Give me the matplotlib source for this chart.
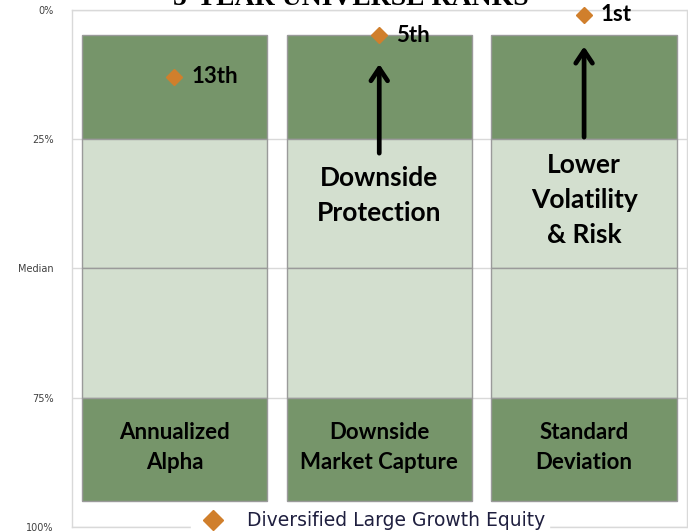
import matplotlib.pyplot as plt
from matplotlib.lines import Line2D

categories = ["Annualized\nAlpha", "Downside\nMarket Capture", "Standard\nDeviation"]
band_edges = [5, 25, 50, 75, 95]          # percentile rank band boundaries
band_colors = ["#76956A", "#D3DFCF", "#D3DFCF", "#76956A"]
ranks = [13, 5, 1]
rank_labels = ["13th", "5th", "1st"]
series_name = "Diversified Large Growth Equity"
ytick_vals = [0, 25, 50, 75, 100]
ytick_labels = ["0%", "25%", "Median", "75%", "100%"]

fig = plt.figure(figsize=(6.88, 5.32), dpi=100)
ax = fig.add_axes([72/688, 5/532, (686.5-72)/688, (527-9.5)/532])

x = list(range(len(categories)))
for i in range(len(band_edges) - 1):
    lo, hi = band_edges[i], band_edges[i+1]
    ax.bar(x, [hi - lo]*len(x), bottom=[lo]*len(x), width=0.905,
           color=band_colors[i], edgecolor="#9A9A9A", linewidth=1.0, zorder=2)

ax.set_ylim(100, 0)
ax.set_xlim(-0.5, len(categories) - 0.5)
ax.set_yticks(ytick_vals)
ax.set_yticklabels(ytick_labels, fontsize=7, color="#404040", family="DejaVu Sans")
ax.tick_params(axis="y", length=0, pad=13)
ax.set_xticks([])
ax.yaxis.grid(True, color="#D9D9D9", linewidth=1.0, zorder=0)
ax.set_axisbelow(True)
for s in ax.spines.values():
    s.set_color("#D9D9D9")
    s.set_linewidth(1.0)

orange = "#D07F2C"
ax.plot(x, ranks, linestyle="none", marker="D", markersize=8, color=orange,
        zorder=5, clip_on=False)
for xi, r, lab in zip(x, ranks, rank_labels):
    ax.annotate(lab, (xi, r), xytext=(12, 0), textcoords="offset points",
                ha="left", va="center", fontsize=16, fontweight="bold",
                family="Lato", color="black", zorder=6)

# category labels inside bottom band
for xi, c in zip(x, categories):
    ax.text(xi, 84.6, c, ha="center", va="center", fontsize=16,
            fontweight="bold", family="Lato", color="black",
            linespacing=1.5, zorder=6)

# arrows and callouts
ax.annotate("", xy=(1, 10.0), xytext=(1, 28.3),
            arrowprops=dict(arrowstyle="->,head_width=0.6,head_length=0.9",
                            color="black", lw=3.4), zorder=6)
ax.annotate("", xy=(2, 6.6), xytext=(2, 25.2),
            arrowprops=dict(arrowstyle="->,head_width=0.6,head_length=0.9",
                            color="black", lw=3.4), zorder=6)
ax.text(1, 35.9, "Downside\nProtection", ha="center", va="center",
        fontsize=19, fontweight="bold", family="Lato", linespacing=1.55, zorder=6)
ax.text(2, 36.8, "Lower\nVolatility\n& Risk", ha="center", va="center",
        fontsize=19, fontweight="bold", family="Lato", linespacing=1.55, zorder=6)

fig.text(0.51, 527/532, "5-YEAR UNIVERSE RANKS", ha="center", va="baseline",
         fontsize=20, fontweight="bold", family="Liberation Serif", color="black")

handle = Line2D([], [], linestyle="none", marker="D", markersize=10, color=orange)
leg = fig.legend([handle], [series_name], loc="center", bbox_to_anchor=(370/688, 11/532),
                 frameon=True, handletextpad=0.8, borderpad=0.2,
                 prop={"family": "DejaVu Sans", "size": 13.5})
leg.get_frame().set_facecolor("white")
leg.get_frame().set_edgecolor("white")
leg.get_frame().set_alpha(1.0)
for t in leg.get_texts():
    t.set_color("#1F1F3F")

fig.savefig("out.png", dpi=100)
